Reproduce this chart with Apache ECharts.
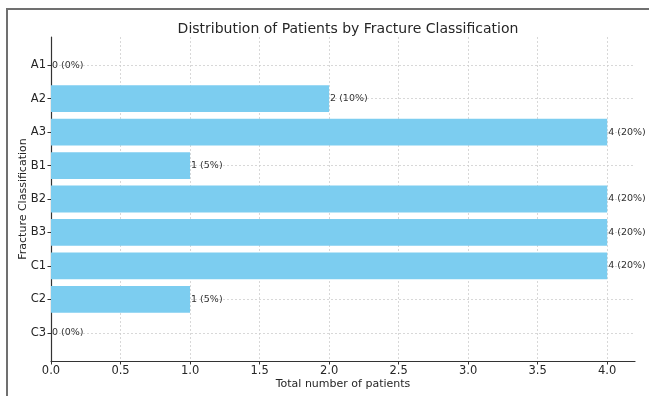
<!DOCTYPE html>
<html>
<head>
<meta charset="utf-8">
<script src="https://cdn.jsdelivr.net/npm/echarts@6/dist/echarts.min.js"></script>
<style>
  html, body { margin: 0; padding: 0; background: #fff; }
  #chart { width: 649px; height: 396px; }
</style>
</head>
<body>
<div id="chart"></div>
<script>
// Fracture classes, top to bottom
const categories = ['A1', 'A2', 'A3', 'B1', 'B2', 'B3', 'C1', 'C2', 'C3'];
// Number of patients per class
const patients = [0, 2, 4, 1, 4, 4, 4, 1, 0];
// Share of all patients, in percent
const percents = [0, 10, 20, 5, 20, 20, 20, 5, 0];
// X axis ticks
const xTicks = [0, 0.5, 1, 1.5, 2, 2.5, 3, 3.5, 4];

const FONT = 'DejaVu Sans';
const BAR_COLOR = '#7ccdf0';
const BAR_HEIGHT = 0.8;

const idx = categories.map((_, i) => i);
const seriesData = patients.map((v, i) => [v, i]);

const chart = echarts.init(document.getElementById('chart'), null, { renderer: 'canvas' });

chart.setOption({
  animation: false,
  backgroundColor: '#fff',
  title: {
    text: 'Distribution of Patients by Fracture Classification',
    left: 343,
    textAlign: 'center',
    top: 17,
    textStyle: { fontFamily: FONT, fontSize: 14, fontWeight: 'normal', color: '#262626' }
  },
  grid: { left: 51, right: 14, top: 37, bottom: 35 },
  xAxis: {
    type: 'value',
    min: 0,
    max: 4.2,
    name: 'Total number of patients',
    nameLocation: 'middle',
    nameGap: 18,
    nameMoveOverlap: false,
    nameTextStyle: { fontFamily: FONT, fontSize: 11, color: '#262626' },
    axisLine: { show: true, onZero: false, lineStyle: { color: '#333', width: 1.2 } },
    axisTick: { show: true, length: 3.5, customValues: xTicks, lineStyle: { color: '#333' } },
    axisLabel: {
      customValues: xTicks,
      margin: 4,
      fontFamily: FONT, fontSize: 11.5, color: '#262626',
      formatter: v => v.toFixed(1)
    },
    splitLine: { show: true, lineStyle: { color: '#cfcfcf', type: [2, 2], width: 0.8 } }
  },
  yAxis: {
    type: 'value',
    inverse: true,
    min: -0.84,
    max: 8.84,
    name: 'Fracture Classification',
    nameLocation: 'middle',
    nameGap: 22,
    nameMoveOverlap: false,
    nameTextStyle: { fontFamily: FONT, fontSize: 11, color: '#262626' },
    axisLine: { show: true, onZero: false, lineStyle: { color: '#333', width: 1.2 } },
    axisTick: { show: true, length: 3.5, customValues: idx, lineStyle: { color: '#333' } },
    axisLabel: {
      customValues: idx,
      margin: 5,
      fontFamily: FONT, fontSize: 11.5, color: '#262626',
      formatter: v => categories[Math.round(v)] || ''
    },
    splitLine: { show: true, lineStyle: { color: '#cfcfcf', type: [2, 2], width: 0.8 } }
  },
  graphic: [
    { type: 'line', shape: { x1: 6, y1: 9, x2: 649, y2: 9 }, style: { stroke: '#707070', lineWidth: 2 }, z: 100 },
    { type: 'line', shape: { x1: 7, y1: 9, x2: 7, y2: 396 }, style: { stroke: '#707070', lineWidth: 2 }, z: 100 }
  ],
  series: [{
    type: 'custom',
    data: seriesData,
    encode: { x: 0, y: 1 },
    renderItem: function (params, api) {
      const value = api.value(0);
      const i = api.value(1);
      const start = api.coord([0, i]);
      const end = api.coord([value, i]);
      const h = Math.abs(api.size([0, BAR_HEIGHT])[1]);
      const children = [];
      if (value > 0) {
        children.push({
          type: 'rect',
          shape: { x: start[0], y: start[1] - h / 2, width: end[0] - start[0], height: h },
          style: { fill: BAR_COLOR }
        });
      }
      children.push({
        type: 'text',
        x: end[0] + 1,
        y: end[1],
        style: {
          text: patients[params.dataIndex] + ' (' + percents[params.dataIndex] + '%)',
          fontFamily: FONT, fontSize: 9.5, fill: '#333',
          align: 'left', verticalAlign: 'middle'
        },
        z2: 10
      });
      return { type: 'group', children: children };
    }
  }]
});
</script>
</body>
</html>
